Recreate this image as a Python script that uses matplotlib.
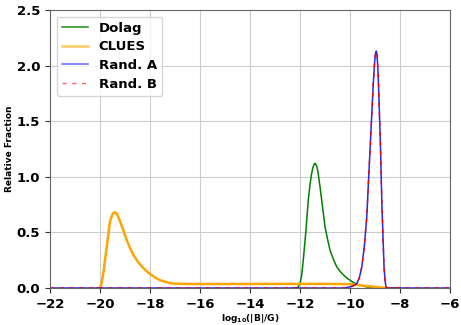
import matplotlib
matplotlib.use("Agg")
import matplotlib.pyplot as plt

# Dolag
dolag_x = [-12.3, -12.1, -12.0, -11.93, -11.87, -11.77, -11.67, -11.6, -11.55, -11.5, -11.45,
           -11.42, -11.39, -11.36, -11.32, -11.28, -11.2, -11.1, -11.0, -10.9, -10.8, -10.65,
           -10.53, -10.4, -10.27, -10.13, -10.0, -9.87, -9.73, -9.5, -9.33, -9.1, -8.9]
dolag_y = [0.0, 0.0, 0.04, 0.12, 0.25, 0.50, 0.79, 0.93, 1.01, 1.07, 1.105,
           1.118, 1.12, 1.11, 1.085, 1.04, 0.91, 0.73, 0.55, 0.44, 0.34, 0.25,
           0.19, 0.15, 0.12, 0.09, 0.07, 0.05, 0.035, 0.02, 0.01, 0.003, 0.0]

# CLUES
clues_x = [-20.1, -20.0, -19.93, -19.87, -19.8, -19.73, -19.6, -19.5, -19.45, -19.4, -19.35,
           -19.3, -19.2, -19.07, -18.93, -18.8, -18.67, -18.47, -18.27, -18.0, -17.8, -17.6,
           -17.3, -17.07, -16.5, -15.0, -13.0, -12.0, -11.0, -10.0, -9.9, -9.5, -9.0, -8.5, -8.0]
clues_y = [0.0, 0.0, 0.05, 0.13, 0.25, 0.37, 0.60, 0.665, 0.678, 0.68, 0.672,
           0.655, 0.60, 0.52, 0.43, 0.36, 0.30, 0.23, 0.18, 0.125, 0.095, 0.07,
           0.05, 0.04, 0.036, 0.036, 0.037, 0.037, 0.037, 0.035, 0.034, 0.022, 0.01, 0.0, 0.0]

# Rand. A
randa_x = [-22.0, -10.3, -10.13, -10.0, -9.87, -9.73, -9.63, -9.53, -9.43, -9.33, -9.27, -9.2,
           -9.13, -9.07, -9.02, -8.98, -8.95, -8.92, -8.88, -8.84, -8.78, -8.73, -8.68, -8.64,
           -8.6, -8.56, -8.5, -6.0]
randa_y = [0.0, 0.0, 0.005, 0.01, 0.02, 0.04, 0.09, 0.19, 0.37, 0.64, 0.92, 1.24,
           1.56, 1.84, 2.02, 2.11, 2.13, 2.10, 1.95, 1.69, 1.25, 0.79, 0.45, 0.19,
           0.07, 0.01, 0.0, 0.0]

# Rand. B
randb_x = list(randa_x)
randb_y = list(randa_y)

xticks = [-22, -20, -18, -16, -14, -12, -10, -8, -6]
yticks = [0.0, 0.5, 1.0, 1.5, 2.0, 2.5]

fig = plt.figure(figsize=(4.61, 3.25), dpi=100)
ax = fig.add_axes([0.1085, 0.1138, 0.8677, 0.8554])

ax.plot(dolag_x, dolag_y, color="green", lw=1.1, label="Dolag")
ax.plot(clues_x, clues_y, color="orange", lw=1.8, label="CLUES")
ax.plot(randa_x, randa_y, color="blue", lw=1.1, alpha=0.85, label="Rand. A")
ax.plot(randb_x, randb_y, color="red", lw=1.0, ls=(0, (3, 4)), label="Rand. B")

ax.set_xlim(-22, -6)
ax.set_ylim(0, 2.5)
ax.set_xticks(xticks)
ax.set_yticks(yticks)
ax.set_yticklabels([f"{v:.1f}" for v in yticks])
ax.grid(True, color="#cccccc", lw=0.8)
ax.set_axisbelow(True)
for s in ax.spines.values():
    s.set_color("#666666")
ax.tick_params(colors="#333333", labelcolor="black", labelsize=9.5)
for lab in ax.get_xticklabels() + ax.get_yticklabels():
    lab.set_fontweight("bold")

ax.set_xlabel(r"$\mathbf{log_{10}(|B|/G)}$", fontsize=6.5, fontweight="bold", labelpad=1)
ax.set_ylabel("Relative Fraction", fontsize=6.5, fontweight="bold", labelpad=2)

leg = ax.legend(loc="upper left", prop={"weight": "bold", "size": 9.5}, handlelength=2.0,
                borderaxespad=0.5, labelspacing=0.42, framealpha=0.8)
for h in leg.get_lines():
    h.set_alpha(0.6)
leg.get_lines()[0].set_alpha(0.9)

fig.savefig("out.png", dpi=100)
